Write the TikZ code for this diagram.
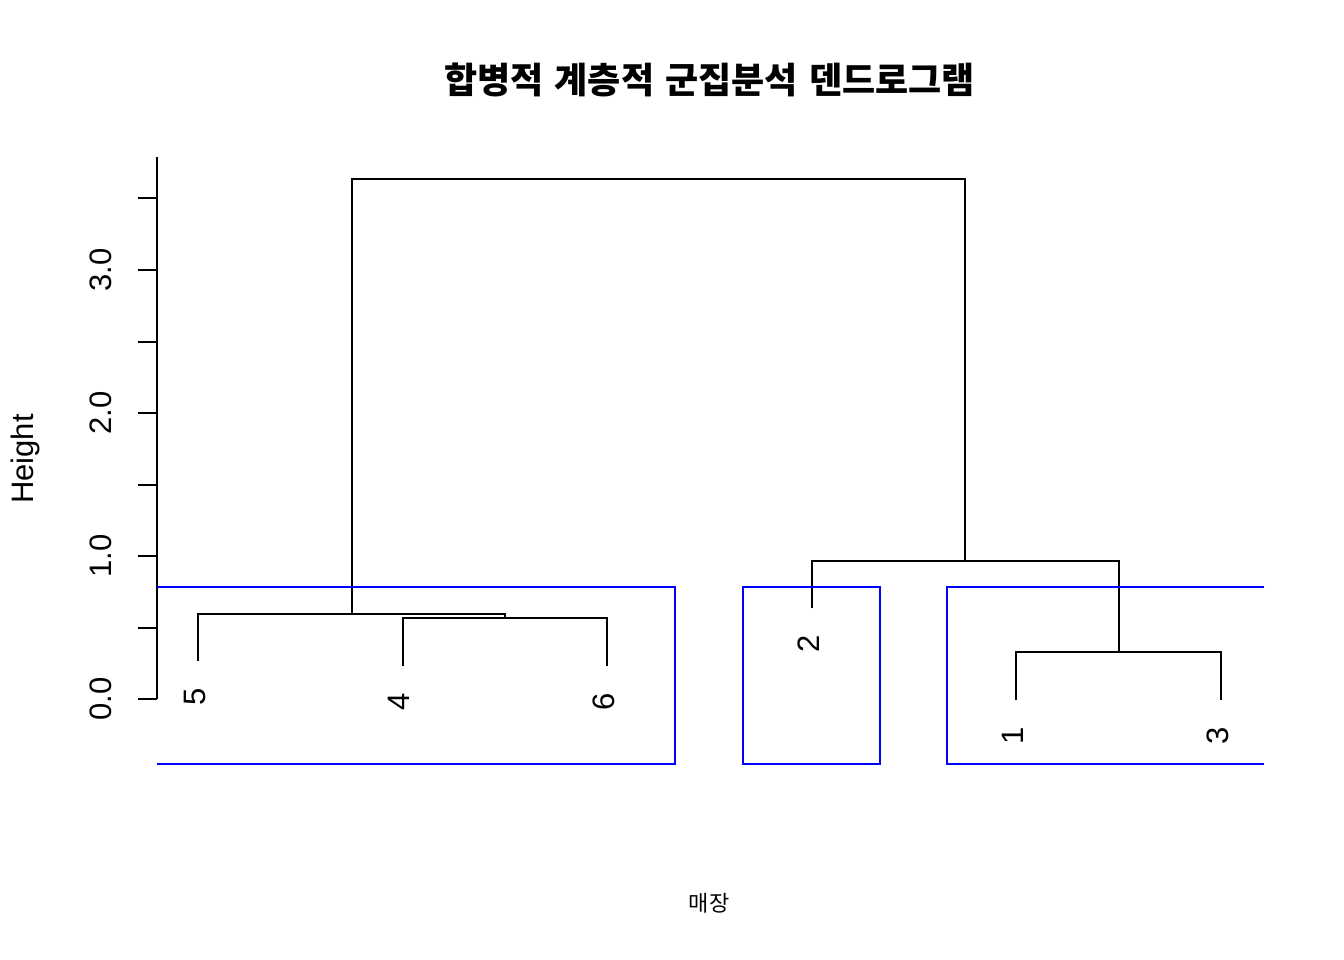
\documentclass[tikz,border=0pt]{standalone}
\usepackage{fontspec}
\setmainfont{Liberation Sans}
\newfontfamily\kr{Noto Sans CJK KR}
\usetikzlibrary{
  chains,
  scopes
}

\begin{document}
\begin{tikzpicture}[
      x=1pt,y=-1pt,
      branch/.style={
         line width=2pt,
         draw=black
      },
      clusterbox/.style={
         line width=2pt,
         draw=blue
      },
      leaf/.style={
         rotate=90,
         anchor=east,
         inner sep=0pt,
         font=\fontsize{31}{31}\selectfont
      },
      ticklabel/.style={
         rotate=90,
         inner sep=0pt,
         font=\fontsize{31}{31}\selectfont
      },
      point/.style={coordinate},
      every join/.style={branch},
      vh path/.style={to path={|- (\tikztotarget)}},
    ]
    \useasboundingbox (0,0) rectangle (1344,960);

    % title and axis titles
    \node (title) at (709.5,80) {\kr\bfseries\fontsize{36}{36}\selectfont 합병적\hspace{3pt} 계층적\hspace{3pt} 군집분석\hspace{3pt} 덴드로그램};
    \node (xlab) at (709,903) {\kr\fontsize{22}{22}\selectfont 매장};
    \node (ylab) [ticklabel] at (25.5,459) {Height};

    % height axis
    \draw[branch] (157,157) -- (157,699);
    \foreach \h in {0,...,7}
       \draw[branch] (157,{699-71.5*\h}) -- (138,{699-71.5*\h});
    \foreach \h/\txt in {0/0.0,2/1.0,4/2.0,6/3.0}
       \node (tick\h) [ticklabel] at (101,{699-71.5*\h}) {\txt};

    % leaf ends
    \node (t5) [point] at (198,661) {};
    \node (t4) [point] at (402.6,666) {};
    \node (t6) [point] at (607.2,666) {};
    \node (t2) [point] at (811.8,608) {};
    \node (t1) [point] at (1016.4,700) {};
    \node (t3) [point] at (1221,700) {};

    % merges
    \node (m46)  [point] at (504.9,618) {};
    \node (m546) [point] at (351.5,614) {};
    \node (m13)  [point] at (1118.7,652) {};
    \node (m213) [point] at (965.3,561) {};
    \node (mtop) [point] at (658.4,179) {};

    % leaf labels
    \node (l5) [leaf] at (194.5,688) {5};
    \node (l4) [leaf] at (399.1,693) {4};
    \node (l6) [leaf] at (603.7,693) {6};
    \node (l2) [leaf] at (808.3,635) {2};
    \node (l1) [leaf] at (1012.9,727) {1};
    \node (l3) [leaf] at (1217.5,727) {3};

  { [start chain]
       \chainin (t4);
       \chainin (m46)    [join=by vh path];
  }
  { [start chain]
       \chainin (t6);
       \chainin (m46)    [join=by vh path];
  }
  { [start chain]
       \chainin (t5);
       \chainin (m546)   [join=by vh path];
  }
  { [start chain]
       \chainin (m46);
       \chainin (m546)   [join=by vh path];
  }
  { [start chain]
       \chainin (t1);
       \chainin (m13)    [join=by vh path];
  }
  { [start chain]
       \chainin (t3);
       \chainin (m13)    [join=by vh path];
  }
  { [start chain]
       \chainin (t2);
       \chainin (m213)   [join=by vh path];
  }
  { [start chain]
       \chainin (m13);
       \chainin (m213)   [join=by vh path];
  }
  { [start chain]
       \chainin (m546);
       \chainin (mtop)   [join=by vh path];
  }
  { [start chain]
       \chainin (m213);
       \chainin (mtop)   [join=by vh path];
  }

    % cluster boxes (cut at the plot edges)
    \draw[clusterbox] (157,587) -- (675,587) -- (675,764) -- (157,764);
    \draw[clusterbox] (743,587) rectangle (880,764);
    \draw[clusterbox] (1264,587) -- (947,587) -- (947,764) -- (1264,764);
\end{tikzpicture}
\end{document}
